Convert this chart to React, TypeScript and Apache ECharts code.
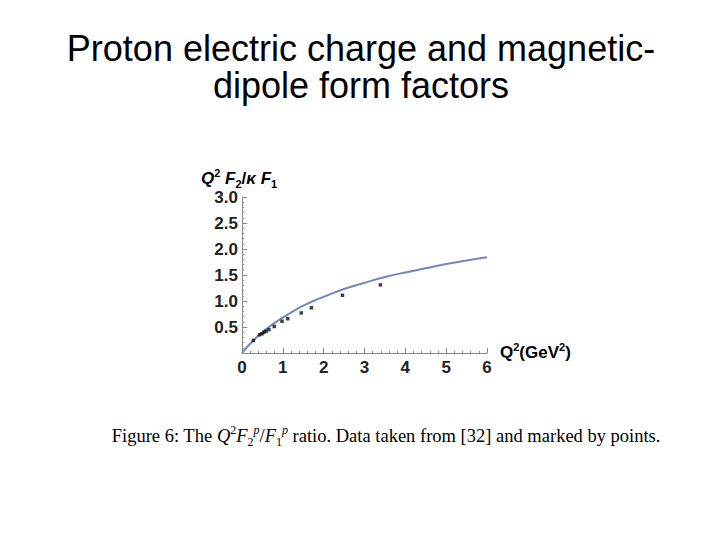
import React, { useEffect, useRef } from "react";
import * as echarts from "echarts";

// curve Q^2 F2 / kappa F1 (model)
const curveQ2 = [0, 0.25, 0.5, 0.75, 1, 1.25, 1.5, 1.75, 2, 2.5, 3, 3.5, 4, 4.5, 5, 5.5, 6];
const curveRatio = [0, 0.22, 0.4, 0.55, 0.68, 0.8, 0.91, 1.0, 1.08, 1.23, 1.35, 1.46, 1.55, 1.63, 1.71, 1.78, 1.84];

// data points from [32]
const dataQ2 = [0.28, 0.43, 0.49, 0.54, 0.59, 0.66, 0.79, 0.98, 1.12, 1.45, 1.7, 2.46, 3.39];
const dataRatio = [0.24, 0.35, 0.37, 0.4, 0.42, 0.45, 0.51, 0.61, 0.66, 0.77, 0.87, 1.11, 1.31];

const xTicks = [0, 1, 2, 3, 4, 5, 6];
const yTicks = [0, 0.5, 1.0, 1.5, 2.0, 2.5, 3.0];

const SANS = "Liberation Sans, Arial, sans-serif";
const SERIF = "Liberation Serif, Times New Roman, serif";

export default function App() {
  const chartRef = useRef<HTMLDivElement>(null);

  useEffect(() => {
    if (!chartRef.current) return;
    const chart = echarts.init(chartRef.current, null, { renderer: "svg" });

    const axisLine = { show: true, lineStyle: { color: "#8a8a8a", width: 1 } };
    const labelStyle = { color: "#222", fontFamily: SANS, fontWeight: "bold" as const, fontSize: 17 };

    const capNorm = { fontFamily: SERIF, fontSize: 18.5, color: "#333", lineHeight: 24, verticalAlign: "middle" };
    const capIt = { ...capNorm, fontStyle: "italic" };
    const capSup = { fontFamily: SERIF, fontSize: 12, color: "#333", verticalAlign: "top" };
    const capSupIt = { ...capSup, fontStyle: "italic" };
    const capSub = { fontFamily: SERIF, fontSize: 12, color: "#333", verticalAlign: "bottom" };

    const nmMain = { fontFamily: SANS, fontSize: 17, fontWeight: "bold", fontStyle: "italic", color: "#222", lineHeight: 22, verticalAlign: "middle" };
    const nmSup = { fontFamily: SANS, fontSize: 11, fontWeight: "bold", color: "#222", verticalAlign: "top" };
    const nmSub = { fontFamily: SANS, fontSize: 11, fontWeight: "bold", color: "#222", verticalAlign: "bottom" };
    const nmUp = { ...nmMain, fontStyle: "normal" };

    const option = {
      animation: false,
      backgroundColor: "#fff",
      grid: { left: 242, right: 233, top: 197, bottom: 187 },
      xAxis: {
        type: "value",
        min: xTicks[0],
        max: xTicks[xTicks.length - 1],
        interval: 1,
        axisLine,
        axisTick: { show: true, inside: true, length: 5, lineStyle: { color: "#8a8a8a" } },
        minorTick: { show: true, splitNumber: 5, length: 2, lineStyle: { color: "#8a8a8a" } },
        splitLine: { show: false },
        axisLabel: { ...labelStyle, margin: 6 },
      },
      yAxis: {
        type: "value",
        min: yTicks[0],
        max: yTicks[yTicks.length - 1],
        interval: 0.5,
        axisLine,
        axisTick: { show: true, inside: true, length: 5, lineStyle: { color: "#8a8a8a" } },
        minorTick: { show: true, splitNumber: 5, length: 2, lineStyle: { color: "#8a8a8a" } },
        splitLine: { show: false },
        axisLabel: {
          ...labelStyle,
          margin: 4,
          showMinLabel: false,
          formatter: (v: number) => (v === 0 ? "" : v.toFixed(1)),
        },
      },
      series: [
        {
          type: "line",
          smooth: true,
          showSymbol: false,
          data: curveQ2.map((q, i) => [q, curveRatio[i]]),
          lineStyle: { color: "#7189b8", width: 2 },
          z: 2,
        },
        {
          type: "scatter",
          symbol: "rect",
          symbolSize: 3.5,
          data: dataQ2.map((q, i) => [q, dataRatio[i]]),
          itemStyle: { color: "#111" },
          z: 3,
        },
      ],
      graphic: [
        {
          type: "text",
          x: 361,
          y: 30,
          style: {
            text: "Proton electric charge and magnetic-\ndipole form factors",
            font: `36px ${SANS}`,
            fill: "#000",
            align: "center",
            verticalAlign: "top",
            lineHeight: 37,
          },
        },
        {
          type: "text",
          x: 201,
          y: 178,
          style: {
            text: "{m|Q}{sp|2}{m| F}{sb|2}{u|/}{m|κ F}{sb|1}",
            align: "left",
            verticalAlign: "middle",
            rich: { m: nmMain, sp: nmSup, sb: nmSub, u: nmUp },
          },
        },
        {
          type: "text",
          x: 500,
          y: 352,
          style: {
            text: "{u|Q}{sp|2}{u|(GeV}{sp|2}{u|)}",
            align: "left",
            verticalAlign: "middle",
            rich: { u: nmUp, sp: nmSup },
          },
        },
        {
          type: "text",
          x: 386,
          y: 436,
          style: {
            text:
              "{n|Figure 6: The }{i|Q}{sp|2}{i|F}{sb|2}{spi|p}{n|/}{i|F}{sb|1}{spi|p}{n| ratio. Data taken from [32] and marked by points.}",
            align: "center",
            verticalAlign: "middle",
            rich: { n: capNorm, i: capIt, sp: capSup, spi: capSupIt, sb: capSub },
          },
        },
      ],
    };

    chart.setOption(option);
    return () => {
      chart.dispose();
    };
  }, []);

  return (
    <div
      ref={chartRef}
      style={{ position: "fixed", left: 0, top: 0, width: "720px", height: "540px", background: "#fff" }}
    ></div>
  );
}
